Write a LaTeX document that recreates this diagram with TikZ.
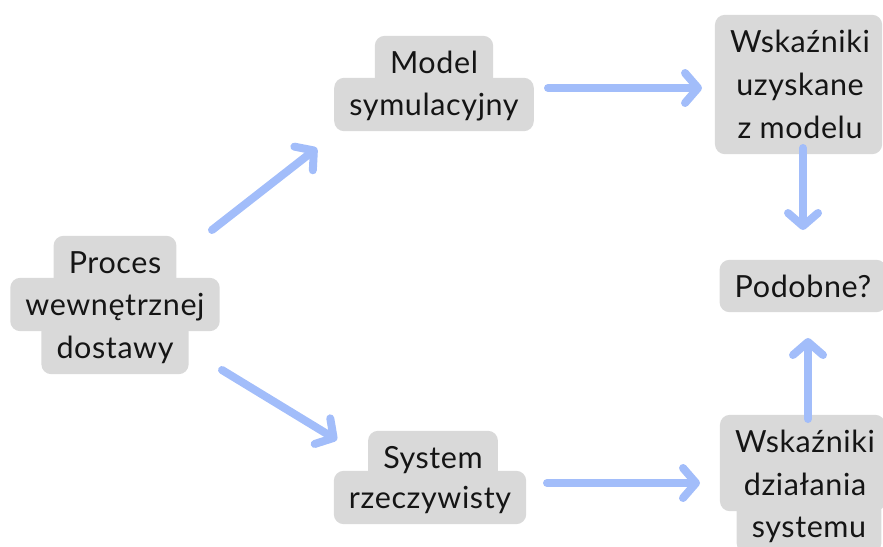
\documentclass[tikz,border=0pt]{standalone}
\usepackage{fontspec}
\setmainfont{Lato}[LetterSpace=2]
\usetikzlibrary{arrows.meta,backgrounds}
\definecolor{boxgray}{HTML}{D9D9D9}
\definecolor{arrblue}{HTML}{A2BDFA}
\definecolor{txt}{HTML}{151515}
\tikzset{
  linetext/.style={text=txt, anchor=base,
    font=\fontsize{30.5}{36}\selectfont, inner xsep=15pt, inner ysep=4pt,
    text height=33pt, text depth=12pt},
  bg/.style={fill=boxgray, rounded corners=10pt},
  arr/.style={draw=arrblue, line width=8pt, line cap=round,
    -{Straight Barb[length=13pt, width=30pt, round]}}
}
\begin{document}
\begin{tikzpicture}[x=1pt,y=-1pt]
\useasboundingbox (0,0) rectangle (883,546);
\clip (0,0) rectangle (883,546);
% Proces wewnetrznej dostawy
\node[linetext] (p1) at (115,273) {Proces};
\node[linetext] (p2) at (115,315) {wewnętrznej};
\node[linetext] (p3) at (115,358) {dostawy};
% Model symulacyjny
\node[linetext] (m1) at (434,73) {Model};
\node[linetext] (m2) at (434,115) {symulacyjny};
% Wskazniki uzyskane z modelu
\node[linetext, minimum width=164pt] (w1) at (800,52) {Wskaźniki};
\node[linetext, minimum width=164pt] (w2) at (800,95) {uzyskane};
\node[linetext, minimum width=164pt] (w3) at (800,138) {z modelu};
% Podobne?
\node[linetext, minimum width=162pt, text depth=11pt] (pd) at (803,297) {Podobne?};
% System rzeczywisty
\node[linetext] (s1) at (433,468) {System};
\node[linetext] (s2) at (430,508) {rzeczywisty};
% Wskazniki dzialania systemu
\node[linetext, minimum width=160pt] (d1) at (805,452) {Wskaźniki};
\node[linetext, minimum width=160pt] (d2) at (805,495) {działania};
\node[linetext, minimum width=142pt] (d3) at (809,537) {systemu};
\begin{pgfonlayer}{background}
  \fill[bg] (p1.north west) rectangle (p1.south east);
  \fill[bg] (p2.north west) rectangle (p2.south east);
  \fill[bg] (p3.north west) rectangle (p3.south east);
  \fill[bg] (m1.north west) rectangle (m1.south east);
  \fill[bg] (m2.north west) rectangle (m2.south east);
  \fill[bg] (w1.north west) rectangle (w3.south east);
  \fill[bg] (pd.north west) rectangle (pd.south east);
  \fill[bg] (s1.north west) rectangle (s1.south east);
  \fill[bg] (s2.north west) rectangle (s2.south east);
  \fill[bg] (d1.north west) rectangle (d2.south east);
  \fill[bg] (d3.north west) rectangle (d3.south east);
\end{pgfonlayer}
% arrow end points
\coordinate (a1s) at (212,230); \coordinate (a1e) at (317,148);
\coordinate (a2s) at (548,88);  \coordinate (a2e) at (702,88);
\coordinate (a3s) at (803,148); \coordinate (a3e) at (803,230);
\coordinate (a4s) at (222,370); \coordinate (a4e) at (337,440);
\coordinate (a5s) at (547,483); \coordinate (a5e) at (700,483);
\coordinate (a6s) at (808,419); \coordinate (a6e) at (808,338);
\draw[arr] (a1s) -- (a1e);
\draw[arr] (a2s) -- (a2e);
\draw[arr] (a3s) -- (a3e);
\draw[arr] (a4s) -- (a4e);
\draw[arr] (a5s) -- (a5e);
\draw[arr] (a6s) -- (a6e);
\end{tikzpicture}
\end{document}
